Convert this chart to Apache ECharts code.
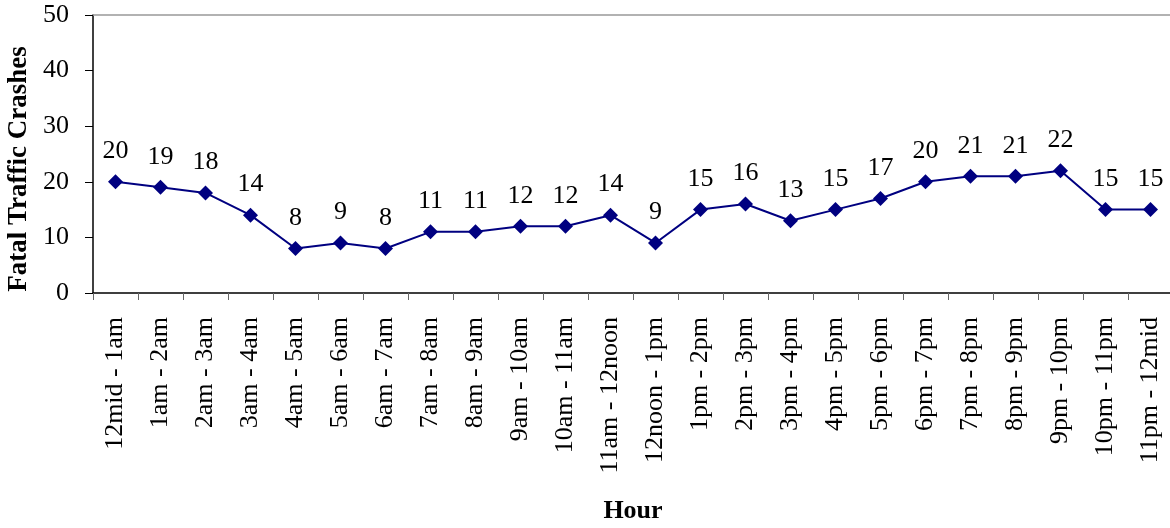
<!DOCTYPE html>
<html><head><meta charset="utf-8">
<script src="https://cdn.jsdelivr.net/npm/echarts@6/dist/echarts.min.js"></script>
<style>html,body{margin:0;padding:0;background:#fff}#c{width:1170px;height:528px}</style>
</head><body><div id="c"></div>
<script>
var categories = ["12mid - 1am","1am - 2am","2am - 3am","3am - 4am","4am - 5am","5am - 6am","6am - 7am","7am - 8am","8am - 9am","9am - 10am","10am - 11am","11am - 12noon","12noon - 1pm","1pm - 2pm","2pm - 3pm","3pm - 4pm","4pm - 5pm","5pm - 6pm","6pm - 7pm","7pm - 8pm","8pm - 9pm","9pm - 10pm","10pm - 11pm","11pm - 12mid"];
var crashes = [20,19,18,14,8,9,8,11,11,12,12,14,9,15,16,13,15,17,20,21,21,22,15,15];
var yTitle = 'Fatal Traffic Crashes';
var xTitle = 'Hour';
var font = '"Liberation Serif", "Times New Roman", serif';
var chart = echarts.init(document.getElementById('c'));
chart.setOption({
  animation: false,
  grid: {left: 93, top: 15, width: 1080, height: 278, outerBoundsMode: 'none', containLabel: false},
  graphic: [{
    type: 'text', x: 19, y: 169, rotation: Math.PI / 2,
    style: {text: yTitle, font: 'bold 27px ' + font, fill: '#000', align: 'center', verticalAlign: 'middle'}
  }],
  xAxis: {
    type: 'category', data: categories, boundaryGap: true,
    name: xTitle, nameLocation: 'middle', nameGap: 205,
    nameTextStyle: {fontFamily: font, fontSize: 26, fontWeight: 'bold', color: '#000'},
    axisLine: {lineStyle: {color: '#000', width: 1.5}},
    axisTick: {show: true, length: 7, lineStyle: {color: '#666'}},
    axisLabel: {rotate: 90, interval: 0, fontFamily: font, fontSize: 26, color: '#000', margin: 24},
    splitLine: {show: false}
  },
  yAxis: {
    type: 'value', min: 0, max: 50, interval: 10,
    axisLine: {show: true, lineStyle: {color: '#000', width: 1.5}},
    axisTick: {show: true, length: 8, lineStyle: {color: '#000'}},
    axisLabel: {fontFamily: font, fontSize: 26, color: '#000', margin: 24},
    splitLine: {show: false}
  },
  series: [{
    type: 'line', data: crashes,
    symbol: 'diamond', symbolSize: 15,
    lineStyle: {color: '#000080', width: 2},
    itemStyle: {color: '#000080'},
    label: {show: true, position: 'top', distance: 10, fontFamily: font, fontSize: 26, color: '#000'},
    markLine: {
      silent: true, symbol: 'none', label: {show: false},
      lineStyle: {color: '#999', type: 'solid', width: 1.5},
      data: [{yAxis: 50}]
    }
  }]
});
</script></body></html>
